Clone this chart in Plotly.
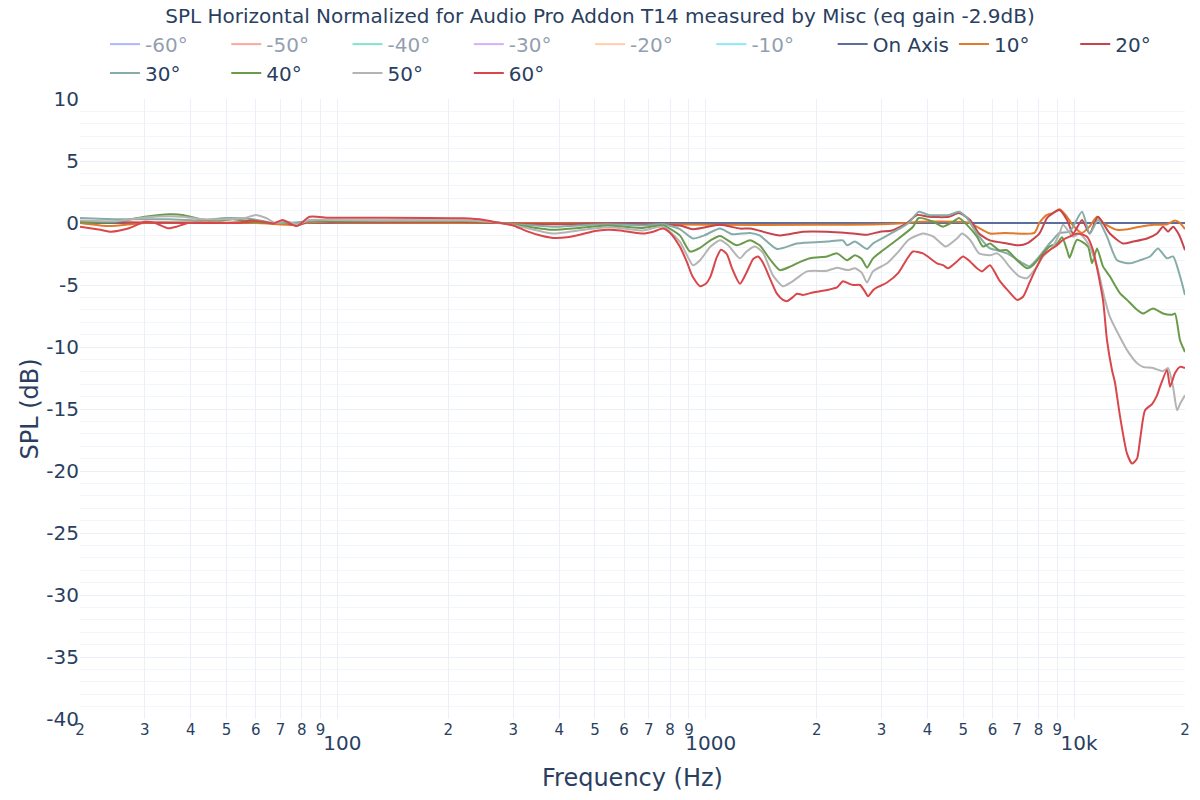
import plotly.graph_objects as go

title_text = "SPL Horizontal Normalized for Audio Pro Addon T14 measured by Misc (eq gain -2.9dB)"

y_tick_values = [-40, -35, -30, -25, -20, -15, -10, -5, 0, 5, 10]
y_tick_labels = ["-40", "-35", "-30", "-25", "-20", "-15", "-10", "-5", "0", "5", "10"]

freq_on = [20, 20000]
spl_on = [0.0, 0.0]

freq_10 = [20, 24, 30, 60, 77.5, 84, 100, 270, 500, 1000, 2000, 3000, 3500, 3800, 4800, 5200, 5910, 6500, 7800, 8047,
           8438, 8764, 9126, 9568, 9932, 10506, 11000, 11538, 12000, 13076, 14000, 15100, 16500, 17900, 18792, 19388, 20000]
spl_10 = [0.0, -0.25, 0.0, 0.0, -0.15, 0.05, 0.05, 0.0, -0.05, -0.15, -0.15, -0.1, 0.0, 0.1, 0.1, 0.0, -0.85, -0.8, -0.8, 0.0,
          0.65, 0.8, 1.1, 0.5, -0.2, -0.8, -0.3, 0.5, 0.0, -0.55, -0.5, -0.3, -0.15, -0.1, 0.2, 0.0, -0.5]

freq_20 = [20, 30, 50, 60, 67, 71, 77.5, 84, 100, 200, 271, 385, 540, 676, 850, 923, 1093, 1238, 1320, 1590,
           1836, 2134, 2418, 2740, 2972, 3200, 3518, 3746, 4030, 4570, 4866, 5216, 5518, 5910, 6574, 7096, 7448, 8047, 8438, 8764,
           9126, 9568, 9932, 10506, 11021, 11610, 12500, 13576, 14452, 15776, 16790, 17432, 17990, 18560, 19268, 20000]
spl_20 = [0.1, 0.05, 0.0, 0.1, 0.0, 0.1, -0.2, 0.15, 0.1, 0.1, 0.0, -0.1, -0.05, -0.1, -0.2, -0.5, -0.15, -0.45, -0.45, -1.0,
          -0.7, -0.7, -0.8, -0.95, -0.7, -0.6, 0.0, 0.65, 0.5, 0.5, 0.8, 0.25, -0.85, -1.4, -1.65, -1.8, -1.65, -0.85, 0.4, 0.8,
          1.05, 0.25, -0.85, 0.25, -0.85, 0.5, -0.85, -1.65, -1.5, -1.25, -0.85, -0.3, -0.7, -0.3, -0.95, -2.2]

freq_30 = [20, 25, 30, 35, 42, 50, 59, 67, 77, 84, 100, 220, 271, 320, 385, 450, 540, 676, 765, 850,
           923, 990, 1093, 1180, 1318, 1400, 1560, 1768, 2134, 2358, 2418, 2540, 2740, 2844, 3028, 3337, 3553, 3784, 4030, 4570,
           4866, 5118, 5448, 5910, 6176, 6574, 7267, 7556, 8047, 8438, 8764, 9126, 9718, 10506, 11021, 11610, 12280, 13076, 14177, 15100,
           16079, 16894, 17876, 18560, 19388, 20000]
spl_30 = [0.4, 0.3, 0.3, 0.3, 0.2, 0.4, 0.3, 0.0, 0.05, 0.15, 0.2, 0.2, 0.05, -0.15, -0.3, -0.2, -0.1, -0.2, -0.1, -0.5,
          -1.25, -1.0, -0.45, -0.9, -0.8, -1.0, -2.1, -1.65, -1.5, -1.4, -1.8, -1.5, -2.1, -1.65, -1.2, -0.5, 0.0, 0.9, 0.65, 0.65,
          0.9, 0.4, -0.85, -2.05, -2.2, -2.45, -3.25, -3.5, -2.7, -1.9, -1.35, -0.8, -0.7, 0.9, -0.85, 0.25, -1.1, -3.0, -3.25, -3.0,
          -2.7, -2.05, -2.85, -2.7, -4.3, -5.8]

freq_40 = [20, 25, 30, 35, 38, 42.5, 48, 52, 59, 67, 71, 77.5, 84, 100, 220, 271, 320, 385, 450, 540,
           600, 676, 765, 850, 906, 965, 1030, 1093, 1215, 1318, 1400, 1500, 1590, 1700, 1768, 1918, 2134, 2271, 2418, 2540,
           2650, 2740, 2844, 3028, 3337, 3653, 3784, 4150, 4406, 4692, 4866, 5118, 5448, 5658, 5910, 6258, 6574, 6998, 7448, 7734,
           8234, 8569, 8988, 9274, 9568, 9718, 10183, 10910, 11184, 11538, 11977, 12500, 13312, 13920, 14818, 15382, 16378, 17432, 18450, 18792,
           19388, 20000]
spl_40 = [0.05, 0.1, 0.5, 0.7, 0.65, 0.3, 0.2, 0.3, 0.1, 0.0, 0.1, -0.1, 0.2, 0.15, 0.15, 0.05, -0.25, -0.55, -0.4, -0.2,
          -0.3, -0.4, -0.2, -1.0, -2.3, -2.0, -1.4, -1.05, -1.8, -1.4, -1.8, -3.0, -3.8, -3.5, -3.25, -2.85, -2.7, -2.45, -3.0, -2.6,
          -2.9, -3.6, -2.85, -2.2, -1.25, -0.3, 0.4, 0.1, -0.3, 0.1, 0.4, -0.15, -1.1, -1.9, -1.65, -2.2, -2.2, -3.0, -3.65, -3.4,
          -2.45, -1.9, -1.65, -1.15, -2.2, -2.8, -1.35, -1.9, -3.25, -2.05, -3.5, -4.3, -5.65, -6.2, -7.0, -7.3, -6.9, -7.3, -7.4, -7.3,
          -9.45, -10.4]

freq_50 = [20, 25, 30, 35, 38, 43, 50, 56, 60, 64, 68, 72, 78, 84, 95, 130, 220, 271, 320, 385,
           450, 540, 600, 676, 765, 850, 923, 965, 1030, 1093, 1150, 1238, 1290, 1360, 1430, 1520, 1620, 1700, 1768, 1883,
           2134, 2271, 2430, 2540, 2650, 2740, 2844, 3105, 3337, 3553, 3888, 4150, 4480, 4808, 4960, 5216, 5518, 5910, 6176, 6412,
           6663, 7096, 7448, 7930, 8234, 8764, 9126, 9332, 9932, 10349, 10910, 11538, 12126, 12500, 13312, 13920, 14818, 15382, 16378, 17432,
           17990, 18560, 19030, 19388, 20000]
spl_50 = [0.2, 0.15, 0.45, 0.55, 0.5, 0.3, 0.3, 0.4, 0.65, 0.4, 0.0, 0.15, -0.1, 0.25, 0.25, 0.2, 0.2, 0.05, -0.35, -0.85,
          -0.6, -0.35, -0.45, -0.6, -0.3, -1.5, -3.4, -3.0, -1.9, -1.4, -1.8, -2.85, -2.3, -1.9, -2.4, -4.2, -5.1, -4.8, -4.45, -3.9,
          -3.85, -3.6, -3.8, -3.65, -4.0, -4.8, -3.9, -3.25, -2.3, -1.35, -0.85, -1.1, -1.9, -1.25, -0.85, -1.35, -2.45, -2.6, -2.45, -2.85,
          -3.5, -4.3, -4.45, -3.5, -2.7, -1.9, -0.85, -0.15, -1.1, -0.85, -1.65, -3.5, -6.2, -7.55, -9.2, -10.25, -11.3, -11.6, -11.7, -11.95,
          -11.7, -13.2, -15.1, -14.6, -13.9]

freq_60 = [20, 22.7, 24.3, 27, 30, 32, 34.7, 36.5, 39.3, 45, 54, 58, 63, 67, 71, 77.5, 84, 95, 130, 220,
           250, 271, 300, 320, 350, 385, 420, 455, 500, 540, 585, 630, 676, 720, 765, 800, 850, 890, 920, 965,
           1000, 1030, 1070, 1100, 1140, 1180, 1238, 1290, 1345, 1386, 1430, 1500, 1560, 1620, 1662, 1720, 1768, 1836, 1954, 2134,
           2271, 2358, 2450, 2511, 2623, 2700, 2758, 2850, 2916, 3105, 3337, 3518, 3653, 3888, 4244, 4406, 4546, 4808, 4992, 5216,
           5448, 5622, 5910, 6258, 6663, 6998, 7267, 7556, 7930, 8234, 8569, 8988, 9332, 9718, 10183, 10840, 11254, 11977, 12280, 12670,
           12914, 13324, 13920, 14362, 14818, 15100, 15580, 16278, 16790, 17110, 17876, 18216, 18792, 19388, 20000]
spl_60 = [-0.3, -0.55, -0.7, -0.45, 0.1, 0.0, -0.43, -0.3, 0.0, 0.05, 0.0, 0.2, 0.1, -0.05, 0.25, -0.25, 0.5, 0.42, 0.43, 0.38,
          0.25, 0.05, -0.2, -0.55, -0.95, -1.2, -1.15, -0.95, -0.65, -0.55, -0.6, -0.75, -0.85, -0.7, -0.45, -0.8, -1.9, -3.2, -4.3, -5.1,
          -4.9, -4.3, -2.8, -2.15, -2.5, -3.7, -4.9, -4.0, -2.9, -2.7, -3.2, -4.6, -5.7, -6.2, -6.3, -6.0, -5.7, -5.8, -5.6, -5.4,
          -5.2, -4.7, -4.9, -5.0, -5.0, -5.5, -5.9, -5.4, -5.2, -4.8, -4.0, -2.9, -2.3, -2.45, -3.25, -3.4, -3.65, -3.1, -2.7, -3.1,
          -3.65, -3.9, -3.4, -4.6, -5.55, -6.2, -5.95, -4.85, -3.5, -2.6, -2.2, -1.8, -1.35, -1.1, -0.85, -1.1, -2.2, -6.2, -9.45, -11.85,
          -12.9, -15.6, -18.6, -19.4, -19.0, -17.5, -15.1, -14.6, -13.9, -13.2, -11.85, -13.2, -12.1, -11.6, -11.7]

# legend-only (hidden) negative angles; symmetric measurement reuses the positive-angle curves
hidden_names = ["-60°", "-50°", "-40°", "-30°", "-20°", "-10°"]
hidden_colors = ["#636EFA", "#EF553B", "#00CC96", "#AB63FA", "#FFA15A", "#19D3F3"]
hidden_data = [(freq_60, spl_60), (freq_50, spl_50), (freq_40, spl_40),
               (freq_30, spl_30), (freq_20, spl_20), (freq_10, spl_10)]

shown_names = ["On Axis", "10°", "20°", "30°", "40°", "50°", "60°"]
shown_colors = ["#5b6e9e", "#e07b2b", "#c9434b", "#86aca8", "#6a9a4a", "#b4b4b4", "#d9474b"]
shown_data = [(freq_on, spl_on), (freq_10, spl_10), (freq_20, spl_20), (freq_30, spl_30),
              (freq_40, spl_40), (freq_50, spl_50), (freq_60, spl_60)]

fig = go.Figure()
for name, color, (fx, fy) in zip(hidden_names, hidden_colors, hidden_data):
    fig.add_trace(go.Scatter(x=fx, y=fy, name=name, mode="lines", visible="legendonly",
                             line=dict(color=color, width=2, shape="spline", smoothing=0.6)))
for name, color, (fx, fy) in zip(shown_names, shown_colors, shown_data):
    fig.add_trace(go.Scatter(x=fx, y=fy, name=name, mode="lines",
                             line=dict(color=color, width=2, shape="spline", smoothing=0.6)))

fig.update_layout(
    template="plotly_white",
    width=1200, height=800,
    font=dict(family="DejaVu Sans, Verdana, sans-serif", size=20, color="#2a3f5f"),
    title=dict(text=title_text, x=0.5, xanchor="center", y=0.98, yanchor="middle", font=dict(size=20)),
    margin=dict(l=80, r=15, t=99, b=81, autoexpand=False),
    legend=dict(orientation="h", x=0.0226, xanchor="left", y=1.0103, yanchor="bottom", font=dict(size=20)),
    showlegend=True,
)
fig.update_xaxes(type="log", range=[1.30103, 4.30103], dtick="D1",
                 title=dict(text="Frequency (Hz)", font=dict(size=24)),
                 tickfont=dict(size=20), showline=False, gridcolor="#EBF0F8")
fig.update_yaxes(range=[-40, 10], tickmode="array", tickvals=y_tick_values, ticktext=y_tick_labels,
                 automargin=True,
                 title=dict(text="SPL (dB)", font=dict(size=24), standoff=0),
                 tickfont=dict(size=20), gridcolor="#EBF0F8",
                 minor=dict(dtick=1, showgrid=True, gridcolor="#F2F5FA"))

fig.write_html("out.html")
